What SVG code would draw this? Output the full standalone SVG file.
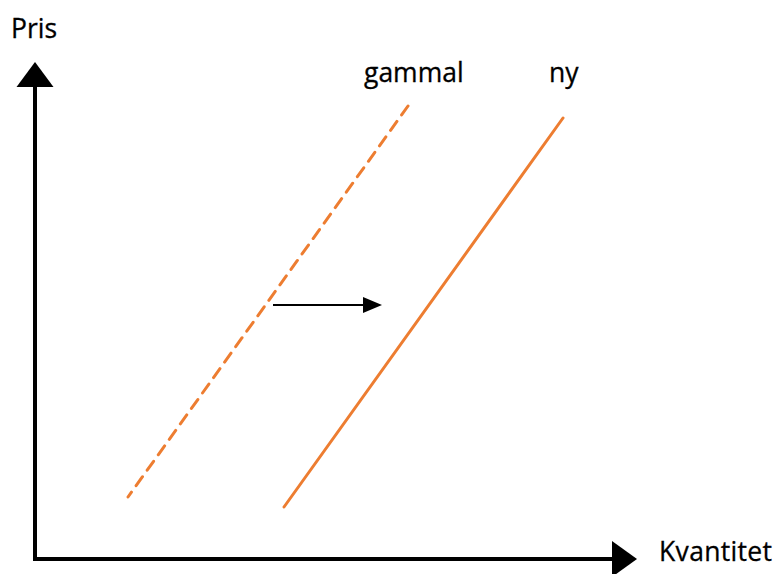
<svg xmlns="http://www.w3.org/2000/svg" width="779" height="574" viewBox="0 0 779 574">
  <style>
    .lbl { font-family: "Open Sans", "Liberation Sans", sans-serif; font-size: 26.5px; fill: #000; stroke: #000; stroke-width: 0.3; }
    .axis { stroke: #000; stroke-width: 4; fill: none; }
    .curve { stroke: #ED7D31; stroke-width: 3; fill: none; stroke-linecap: round; }
    .dashed { stroke-dasharray: 11 8; }
    .shift { stroke: #000; stroke-width: 2; fill: none; }
  </style>
  <rect width="779" height="574" fill="#fff"/>
  <g id="axes">
    <line class="axis" x1="35" y1="86" x2="35" y2="561"/>
    <line class="axis" x1="33" y1="559" x2="613" y2="559"/>
    <path d="M35,62 L53.5,87 L16.5,87 Z" fill="#000"/>
    <path d="M637,559 L612,541 L612,577 Z" fill="#000"/>
  </g>
  <g id="curve-gammal">
    <line class="curve dashed" x1="408" y1="106" x2="128" y2="497"/>
  </g>
  <g id="curve-ny">
    <line class="curve" x1="563" y1="118" x2="284" y2="507"/>
  </g>
  <g id="connectors">
    <line class="shift" x1="273" y1="305" x2="364" y2="305"/>
    <path d="M382,305 L363,297 L363,313 Z" fill="#000"/>
  </g>
  <g id="labels">
    <text class="lbl" x="11" y="38">Pris</text>
    <text class="lbl" x="659" y="561" textLength="113">Kvantitet</text>
    <text class="lbl" x="364" y="82">gammal</text>
    <text class="lbl" x="549" y="82">ny</text>
  </g>
</svg>
